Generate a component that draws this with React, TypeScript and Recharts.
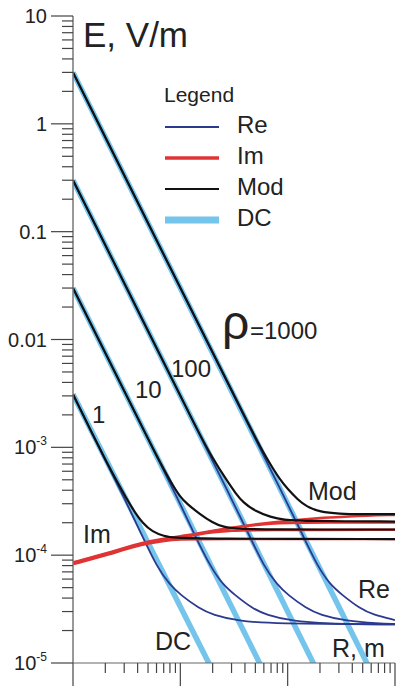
import React from 'react';
import { LineChart, Line, XAxis, YAxis, Customized } from 'recharts';

// axes
const xMajorTicks = [10, 100, 1000, 10000];
const yMajorTicks = [1e-5, 1e-4, 1e-3, 0.01, 0.1, 1, 10];
const yTickLabels = ['10^-5', '10^-4', '10^-3', '0.01', '0.1', '1', '10'];
const minorSteps = [2, 3, 4, 5, 6, 7, 8, 9];
const rhoValues = ['1', '10', '100', '1000'];

// curves: [R, E] pairs
const dc1 = [[10, 3.1e-3], [200, 8.5e-6]];
const dc10 = [[10, 0.03], [600, 8.3e-6]];
const dc100 = [[10, 0.3], [2000, 7.5e-6]];
const dc1000 = [[10, 3], [6000, 8.3e-6]];

const re1 = [[10, 3.1e-3], [20, 7.6e-4], [30, 3.4e-4], [45, 1.45e-4], [60, 7.9e-5], [80, 5.3e-5], [100, 4.3e-5], [150, 3.2e-5], [200, 2.8e-5], [350, 2.45e-5], [700, 2.32e-5], [10000, 2.28e-5]];
const re10 = [[10, 0.03], [50, 1.2e-3], [95, 3.33e-4], [140, 1.45e-4], [190, 7.9e-5], [250, 5.3e-5], [320, 4.3e-5], [470, 3.2e-5], [630, 2.8e-5], [1100, 2.45e-5], [2200, 2.32e-5], [10000, 2.28e-5]];
const re100 = [[10, 0.3], [100, 3e-3], [300, 3.33e-4], [450, 1.45e-4], [600, 7.9e-5], [800, 5.3e-5], [1000, 4.3e-5], [1500, 3.2e-5], [2000, 2.8e-5], [3500, 2.45e-5], [7000, 2.32e-5], [10000, 2.3e-5]];
const re1000 = [[10, 3], [300, 3.33e-3], [950, 3.33e-4], [1420, 1.45e-4], [1900, 7.9e-5], [2500, 5.3e-5], [3200, 4.3e-5], [4700, 3.2e-5], [6300, 2.8e-5], [10000, 2.5e-5]];

const im1 = [[10, 8.25e-5], [18, 9.6e-5], [39, 1.22e-4], [52, 1.29e-4], [70, 1.36e-4], [100, 1.4e-4], [150, 1.41e-4], [10000, 1.41e-4]];
const im10 = [[10, 8.35e-5], [18, 9.75e-5], [39, 1.235e-4], [52, 1.31e-4], [70, 1.39e-4], [120, 1.5e-4], [150, 1.56e-4], [200, 1.63e-4], [300, 1.69e-4], [500, 1.71e-4], [10000, 1.72e-4]];
const im100 = [[10, 8.5e-5], [18, 9.9e-5], [39, 1.25e-4], [52, 1.33e-4], [70, 1.41e-4], [120, 1.52e-4], [150, 1.58e-4], [250, 1.73e-4], [440, 1.88e-4], [700, 1.96e-4], [1000, 1.99e-4], [2000, 2.01e-4], [10000, 2.01e-4]];
const im1000 = [[10, 8.6e-5], [18, 1.0e-4], [39, 1.265e-4], [52, 1.345e-4], [70, 1.43e-4], [120, 1.54e-4], [150, 1.6e-4], [250, 1.75e-4], [440, 1.91e-4], [1300, 2.16e-4], [3800, 2.3e-4], [10000, 2.36e-4]];

const mod1 = [[10, 3.1e-3], [15, 1.36e-3], [20, 7.7e-4], [26, 4.7e-4], [36, 2.65e-4], [45, 1.95e-4], [55, 1.65e-4], [70, 1.5e-4], [90, 1.45e-4], [150, 1.42e-4], [10000, 1.41e-4]];
const mod10 = [[10, 0.03], [30, 3.33e-3], [50, 1.2e-3], [65, 7.2e-4], [82, 4.7e-4], [100, 3.45e-4], [115, 3.0e-4], [152, 2.4e-4], [200, 2.0e-4], [250, 1.82e-4], [350, 1.75e-4], [600, 1.73e-4], [10000, 1.73e-4]];
const mod100 = [[10, 0.3], [50, 1.2e-2], [150, 1.33e-3], [200, 7.9e-4], [272, 4.9e-4], [330, 3.7e-4], [383, 3.1e-4], [500, 2.55e-4], [700, 2.25e-4], [900, 2.13e-4], [1500, 2.07e-4], [10000, 2.05e-4]];
const mod1000 = [[10, 3], [100, 3e-2], [500, 1.22e-3], [600, 8.8e-4], [700, 6.8e-4], [850, 5.0e-4], [1000, 4.1e-4], [1250, 3.25e-4], [1500, 2.82e-4], [2000, 2.52e-4], [3000, 2.42e-4], [5000, 2.4e-4], [10000, 2.4e-4]];

const colors = { re: '#2b3a8e', im: '#e03434', mod: '#111111', dc: '#74c4ec' };
const font = '"Liberation Sans", Arial, Helvetica, sans-serif';
const ink = '#222';

const toPts = (arr: number[][]) => arr.map(([r, v]) => ({ r, v }));
const withMinors = (majors: number[]) =>
  majors.flatMap((m, i) => (i === majors.length - 1 ? [m] : [m, ...minorSteps.map((s) => s * m)]));
const isMajor = (v: number) => Math.abs(Math.log10(v) - Math.round(Math.log10(v))) < 1e-6;

const series = [
  { key: 'dc', color: colors.dc, width: 5.5, type: 'linear', curves: [dc1, dc10, dc100, dc1000] },
  { key: 're', color: colors.re, width: 1.8, type: 'basis', curves: [re1, re10, re100, re1000] },
  { key: 'im', color: colors.im, width: 2.4, type: 'basis', curves: [im1, im10, im100, im1000] },
  { key: 'mod', color: colors.mod, width: 2.2, type: 'basis', curves: [mod1, mod10, mod100, mod1000] },
];

function YTick(props: any) {
  const { x, y, payload } = props;
  const v = payload.value;
  const major = isMajor(v);
  const len = major ? 22 : 11;
  let label: React.ReactNode = null;
  if (major) {
    const idx = yMajorTicks.findIndex((m) => Math.abs(Math.log10(m) - Math.log10(v)) < 1e-6);
    const [base, exp] = yTickLabels[idx].split('^');
    label = (
      <text x={x - 26} y={y + 7} textAnchor="end" fontSize={20} fill={ink} fontFamily={font}>
        <tspan>{base}</tspan>
        {exp && <tspan dy={-9} fontSize={12}>{exp}</tspan>}
      </text>
    );
  }
  return (
    <g>
      <line x1={x - len} y1={y} x2={x} y2={y} stroke="#444" strokeWidth={1.2} />
      {label}
    </g>
  );
}

function XTick(props: any) {
  const { x, y, payload } = props;
  const len = isMajor(payload.value) ? 23 : 10;
  return <line x1={x} y1={y} x2={x} y2={y + len} stroke="#444" strokeWidth={1.2} />;
}

function Annotations() {
  const legendRows = [
    { name: 'Re', color: colors.re, w: 2 },
    { name: 'Im', color: colors.im, w: 3.5 },
    { name: 'Mod', color: colors.mod, w: 2 },
    { name: 'DC', color: colors.dc, w: 7 },
  ];
  return (
    <g fontFamily={font} fill={ink}>
      <text x={83} y={47} fontSize={35}>E, V/m</text>
      <text x={164} y={102} fontSize={21}>Legend</text>
      {legendRows.map((row, i) => (
        <g key={row.name}>
          <line x1={165} x2={219} y1={127 + i * 31} y2={127 + i * 31} stroke={row.color} strokeWidth={row.w} />
          <text x={237} y={133 + i * 31} fontSize={24}>{row.name}</text>
        </g>
      ))}
      <text x={222} y={339} fontSize={48}>ρ</text>
      <text x={250} y={339} fontSize={24}>={rhoValues[3]}</text>
      <text x={171} y={377} fontSize={24}>{rhoValues[2]}</text>
      <text x={135} y={398} fontSize={24}>{rhoValues[1]}</text>
      <text x={92} y={423} fontSize={24}>{rhoValues[0]}</text>
      <text x={83} y={543} fontSize={25}>Im</text>
      <text x={308} y={500} fontSize={25}>Mod</text>
      <text x={358} y={598} fontSize={25}>Re</text>
      <text x={155} y={650} fontSize={25}>DC</text>
      <text x={332} y={657} fontSize={25}>R, m</text>
    </g>
  );
}

export default function App() {
  return (
    <div style={{ position: 'absolute', left: 0, top: 0, width: 400, height: 686, background: '#fff' }}>
      <LineChart width={400} height={686} margin={{ top: 16, right: 5, bottom: 0, left: 0 }}>
        <XAxis
          dataKey="r"
          type="number"
          scale="log"
          domain={[10, 10000]}
          allowDataOverflow
          ticks={withMinors(xMajorTicks)}
          interval={0}
          tickSize={0}
          tickMargin={0}
          tickLine={false}
          tick={<XTick />}
          height={23}
          axisLine={{ stroke: '#666', strokeWidth: 1.2 }}
        />
        <YAxis
          dataKey="v"
          type="number"
          scale="log"
          domain={[1e-5, 10]}
          allowDataOverflow
          ticks={withMinors(yMajorTicks)}
          interval={0}
          tickSize={0}
          tickMargin={0}
          tickLine={false}
          tick={<YTick />}
          width={73}
          axisLine={{ stroke: '#777', strokeWidth: 1.5 }}
        />
        {series.flatMap((s) =>
          s.curves.map((c, i) => (
            <Line
              key={`${s.key}-${i}`}
              data={toPts(c)}
              dataKey="v"
              type={s.type as any}
              stroke={s.color}
              strokeWidth={s.width}
              dot={false}
              activeDot={false}
              isAnimationActive={false}
            />
          ))
        )}
        <Customized component={Annotations} />
      </LineChart>
    </div>
  );
}
